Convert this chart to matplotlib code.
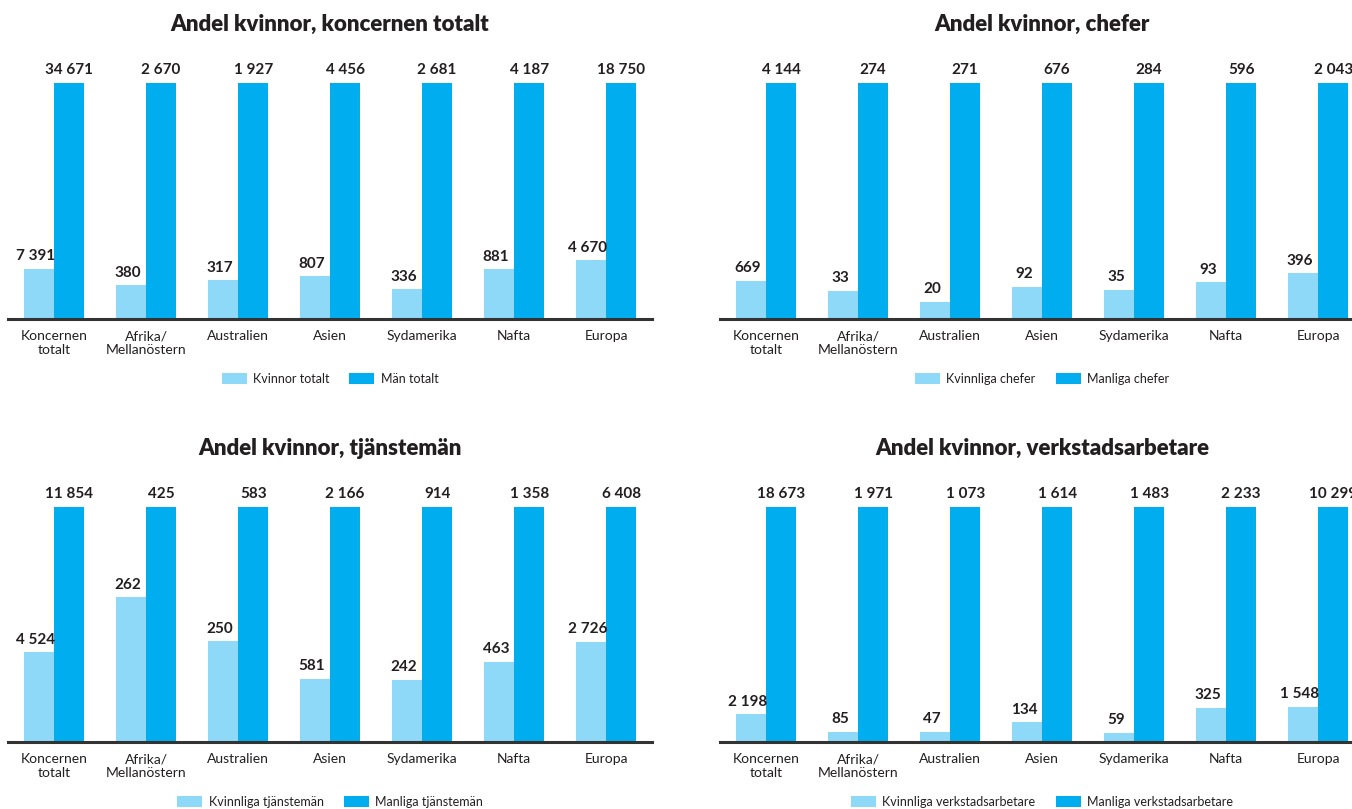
import matplotlib
matplotlib.use('Agg')
import matplotlib.pyplot as plt
import numpy as np

plt.rcParams['font.family'] = ['Lato', 'DejaVu Sans']

# categories shared by all four panels
categories = ['Koncernen\ntotalt', 'Afrika/\nMellanöstern', 'Australien', 'Asien',
              'Sydamerika', 'Nafta', 'Europa']

# head counts
totalt_kvinnor = [7391, 380, 317, 807, 336, 881, 4670]
totalt_man = [34671, 2670, 1927, 4456, 2681, 4187, 18750]
chefer_kvinnor = [669, 33, 20, 92, 35, 93, 396]
chefer_man = [4144, 274, 271, 676, 284, 596, 2043]
tjm_kvinnor = [4524, 262, 250, 581, 242, 463, 2726]
tjm_man = [11854, 425, 583, 2166, 914, 1358, 6408]
verk_kvinnor = [2198, 85, 47, 134, 59, 325, 1548]
verk_man = [18673, 1971, 1073, 1614, 1483, 2233, 10299]

LIGHT = '#8ED8F8'
DARK = '#00AEEF'
TEXT = '#231F20'

W, H = 1352, 809


def fmt(v):
    return '{:,}'.format(v).replace(',', ' ')


def draw_panel(ax, title, women, men, lab_w, lab_m):
    x = np.arange(len(categories))
    women = np.array(women, dtype=float)
    men = np.array(men, dtype=float)
    # men's bar is the full height, women's bar is scaled against it
    h_w = women / men
    h_m = np.ones_like(men)
    bw = 0.33
    ax.bar(x - bw / 2, h_w, width=bw, color=LIGHT, label=lab_w, zorder=2)
    ax.bar(x + bw / 2, h_m, width=bw, color=DARK, label=lab_m, zorder=2)
    for xi, hw, v in zip(x, h_w, women):
        ax.annotate(fmt(int(v)), (xi - bw / 2 - 0.03, hw), xytext=(0, 4), textcoords='offset points',
                    ha='center', va='bottom', fontsize=11, fontweight='bold', color=TEXT)
    for xi, hm, v in zip(x, h_m, men):
        ax.annotate(fmt(int(v)), (xi + bw / 2, hm), xytext=(0, 4), textcoords='offset points',
                    ha='center', va='bottom', fontsize=11, fontweight='bold', color=TEXT)
    ax.set_xlim(-0.5, 6.5)
    ax.set_ylim(0, 1)
    ax.set_xticks(x)
    ax.set_xticklabels(categories, fontsize=10, color=TEXT, linespacing=1.15)
    ax.tick_params(axis='x', length=0, pad=8)
    ax.set_yticks([])
    for s in ['top', 'left', 'right']:
        ax.spines[s].set_visible(False)
    ax.spines['bottom'].set_linewidth(2.2)
    ax.spines['bottom'].set_color('#333333')
    ax.spines['bottom'].set_zorder(3)
    ax.text(0.5, 1.25, title, transform=ax.transAxes, ha='center', va='center',
            fontsize=16, fontweight='heavy', color=TEXT)
    ax.legend(loc='center', bbox_to_anchor=(0.5, -0.255), ncol=2, frameon=False,
              fontsize=9, handlelength=2.0, handleheight=1.0, columnspacing=1.6,
              handletextpad=0.5, labelcolor=TEXT)


fig = plt.figure(figsize=(W / 100, H / 100), dpi=100)

ax1 = fig.add_axes([8 / W, 1 - 319 / H, 644 / W, 236 / H])
ax2 = fig.add_axes([720 / W, 1 - 319 / H, 644 / W, 236 / H])
ax3 = fig.add_axes([8 / W, 1 - 742 / H, 644 / W, 235 / H])
ax4 = fig.add_axes([720 / W, 1 - 742 / H, 644 / W, 235 / H])

draw_panel(ax1, 'Andel kvinnor, koncernen totalt', totalt_kvinnor, totalt_man,
           'Kvinnor totalt', 'Män totalt')
draw_panel(ax2, 'Andel kvinnor, chefer', chefer_kvinnor, chefer_man,
           'Kvinnliga chefer', 'Manliga chefer')
draw_panel(ax3, 'Andel kvinnor, tjänstemän', tjm_kvinnor, tjm_man,
           'Kvinnliga tjänstemän', 'Manliga tjänstemän')
draw_panel(ax4, 'Andel kvinnor, verkstadsarbetare', verk_kvinnor, verk_man,
           'Kvinnliga verkstadsarbetare', 'Manliga verkstadsarbetare')

fig.savefig('out.png', dpi=100)
